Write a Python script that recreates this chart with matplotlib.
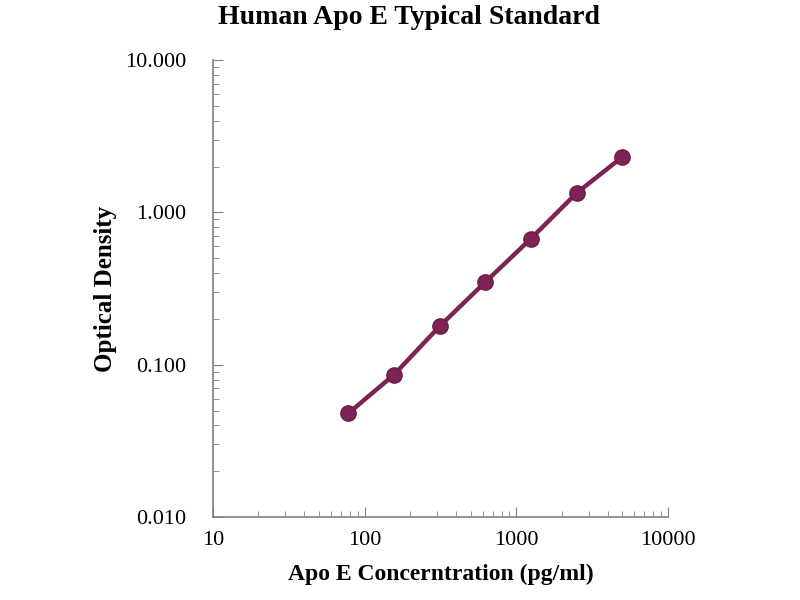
import matplotlib
matplotlib.use('Agg')
import numpy as np
from matplotlib import pyplot as plt
from matplotlib.ticker import LogLocator, NullFormatter, FixedLocator, FixedFormatter

# standard curve data
conc = [78.125, 156.25, 312.5, 625, 1250, 2500, 5000]
od = [0.048, 0.086, 0.179, 0.349, 0.673, 1.34, 2.31]

x_ticks = [10, 100, 1000, 10000]
x_labels = ['10', '100', '1000', '10000']
y_ticks = [0.01, 0.1, 1, 10]
y_labels = ['0.010', '0.100', '1.000', '10.000']

plt.rcParams['font.family'] = ['Liberation Serif', 'DejaVu Serif']

fig = plt.figure(figsize=(8, 6), dpi=100)
ax = fig.add_axes([0.266, 0.138, 0.569, 0.762])

color = '#7e2455'
ax.plot(conc, od, color=color, linewidth=3.2, marker='o', markersize=11,
        markerfacecolor=color, markeredgecolor='#6a1c47', zorder=3)

ax.set_xscale('log')
ax.set_yscale('log')
ax.set_xlim(10, 10000)
ax.set_ylim(0.01, 10)

ax.xaxis.set_major_locator(FixedLocator(x_ticks))
ax.xaxis.set_major_formatter(FixedFormatter(x_labels))
ax.yaxis.set_major_locator(FixedLocator(y_ticks))
ax.yaxis.set_major_formatter(FixedFormatter(y_labels))
ax.xaxis.set_minor_locator(LogLocator(base=10, subs=np.arange(2, 10)))
ax.yaxis.set_minor_locator(LogLocator(base=10, subs=np.arange(2, 10)))
ax.xaxis.set_minor_formatter(NullFormatter())
ax.yaxis.set_minor_formatter(NullFormatter())

for side in ['top', 'right']:
    ax.spines[side].set_visible(False)
for side in ['left', 'bottom']:
    ax.spines[side].set_color('#808080')
    ax.spines[side].set_linewidth(1.2)

ax.tick_params(which='major', direction='in', length=7, color='#808080',
               labelsize=16)
ax.tick_params(axis='x', which='major', pad=10)
ax.tick_params(axis='y', which='major', pad=19)
ax.tick_params(which='minor', direction='in', length=4, color='#808080')

ax.set_title('Human Apo E Typical Standard', fontsize=20, fontweight='bold',
             pad=26, x=0.43)
ax.set_xlabel('Apo E Concerntration (pg/ml)', fontsize=17, fontweight='bold', labelpad=10)
ax.set_ylabel('Optical Density', fontsize=18, fontweight='bold', labelpad=6)

fig.savefig('out.png', dpi=100)
